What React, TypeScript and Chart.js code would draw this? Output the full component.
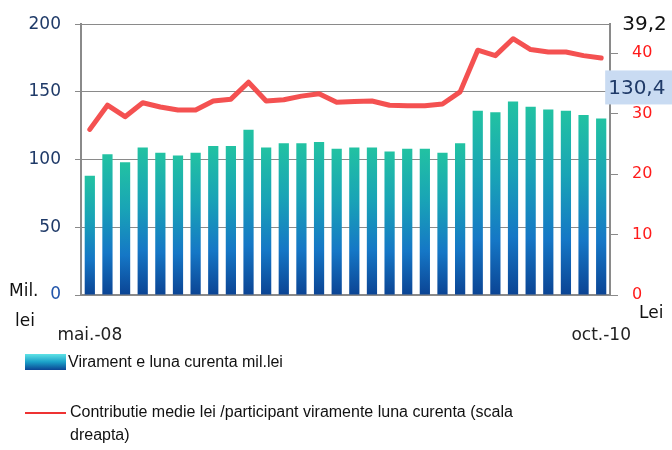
import React, { useEffect, useRef } from "react";
import { Chart, registerables } from "chart.js";

Chart.register(...registerables);

const months: string[] = [
  "mai.-08", "iun.-08", "iul.-08", "aug.-08", "sep.-08", "oct.-08", "nov.-08", "dec.-08",
  "ian.-09", "feb.-09", "mar.-09", "apr.-09", "mai.-09", "iun.-09", "iul.-09", "aug.-09",
  "sep.-09", "oct.-09", "nov.-09", "dec.-09", "ian.-10", "feb.-10", "mar.-10", "apr.-10",
  "mai.-10", "iun.-10", "iul.-10", "aug.-10", "sep.-10", "oct.-10",
];

const viramente: number[] = [
  88, 104, 98, 109, 105, 103, 105, 110, 110, 122, 109, 112, 112, 113, 108,
  109, 109, 106, 108, 108, 105, 112, 136, 135, 143, 139, 137, 136, 133, 130.4,
];

const contributie: number[] = [
  27.4, 31.4, 29.5, 31.8, 31.1, 30.6, 30.6, 32.1, 32.4, 35.2, 32.1, 32.3, 32.9, 33.3, 31.9,
  32.0, 32.1, 31.4, 31.3, 31.3, 31.6, 33.6, 40.5, 39.6, 42.4, 40.6, 40.2, 40.2, 39.6, 39.2,
];

const shownTickLabels: string[] = ["mai.-08", "oct.-10"];
const lastBarLabel = "130,4";
const lastLineLabel = "39,2";
const legendBar = "Virament e luna curenta mil.lei";
const legendLine1 = "Contributie medie lei /participant viramente luna curenta (scala";
const legendLine2 = "dreapta)";

const FONT = "'DejaVu Sans', Verdana, sans-serif";
const LFONT = "'Liberation Sans', Arial, sans-serif";

function barGradient(ctx: CanvasRenderingContext2D, top: number, bottom: number) {
  const g = ctx.createLinearGradient(0, top, 0, bottom);
  g.addColorStop(0, "#22c2a2");
  g.addColorStop(0.35, "#19a4b6");
  g.addColorStop(0.7, "#1577c6");
  g.addColorStop(1, "#0b4494");
  return g;
}

const extrasPlugin = {
  id: "extras",
  afterDraw(chart: any) {
    const ctx: CanvasRenderingContext2D = chart.ctx;
    const area = chart.chartArea;
    ctx.save();
    // unit labels
    ctx.fillStyle = "#111";
    ctx.font = `17px ${FONT}`;
    ctx.textBaseline = "middle";
    ctx.textAlign = "left";
    ctx.fillText("Mil.", 9, area.bottom - 3);
    ctx.fillText("lei", 15, area.bottom + 27);
    ctx.fillText("Lei", 639, area.bottom + 19);

    // value labels near last points
    const lineMeta = chart.getDatasetMeta(1);
    const barMeta = chart.getDatasetMeta(0);
    const lp = lineMeta.data[lineMeta.data.length - 1];
    const bp = barMeta.data[barMeta.data.length - 1];
    ctx.font = `20px ${FONT}`;
    ctx.fillStyle = "#111";
    ctx.fillText(lastLineLabel, lp.x + 21, lp.y - 33);

    const bx = bp.x + 4;
    const by = bp.y - 48;
    ctx.fillStyle = "#c9dbf2";
    ctx.fillRect(bx, by, 672 - bx, 34);
    ctx.fillStyle = "#1f3a68";
    ctx.fillText(lastBarLabel, bx + 3, by + 18);

    // legend
    const sg = ctx.createLinearGradient(0, 354, 0, 370);
    sg.addColorStop(0, "#5fe3e6");
    sg.addColorStop(0.5, "#1aa0c8");
    sg.addColorStop(1, "#0b4494");
    ctx.fillStyle = sg;
    ctx.fillRect(25, 354, 41, 16);
    ctx.fillStyle = "#111";
    ctx.font = `16px ${LFONT}`;
    ctx.fillText(legendBar, 68, 363);

    ctx.strokeStyle = "#ee3333";
    ctx.lineWidth = 2;
    ctx.beginPath();
    ctx.moveTo(25, 413);
    ctx.lineTo(66, 413);
    ctx.stroke();
    ctx.fillText(legendLine1, 70, 413);
    ctx.fillText(legendLine2, 70, 436);
    ctx.restore();
  },
};

export default function App() {
  const ref = useRef<HTMLCanvasElement | null>(null);
  useEffect(() => {
    if (!ref.current) return;
    const chart = new Chart(ref.current, {
      type: "bar",
      data: {
        labels: months,
        datasets: [
          {
            type: "bar",
            label: legendBar,
            data: viramente,
            yAxisID: "y",
            order: 2,
            barPercentage: 0.58,
            categoryPercentage: 1,
            backgroundColor: (c: any) => {
              const ch = c.chart;
              if (!ch.chartArea || c.type !== "data") return "#1a80c8";
              const ys = ch.scales.y;
              return barGradient(ch.ctx, ys.getPixelForValue(c.raw), ys.getPixelForValue(0));
            },
            borderWidth: 0,
          },
          {
            type: "line",
            label: legendLine1,
            data: contributie,
            yAxisID: "y1",
            order: 1,
            borderColor: "rgba(243,72,72,0.95)",
            borderWidth: 5,
            pointRadius: 0,
            tension: 0,
            borderJoinStyle: "round",
            borderCapStyle: "round",
          },
        ],
      },
      options: {
        responsive: false,
        animation: false,
        layout: { padding: { top: 22, left: 0, right: 0, bottom: 0 } },
        plugins: { legend: { display: false }, tooltip: { enabled: false } },
        scales: {
          x: {
            type: "category",
            offset: true,
            grid: { display: false, drawTicks: false },
            border: { display: true, color: "#8a8a8a", width: 2 },
            ticks: {
              autoSkip: false,
              maxRotation: 0,
              minRotation: 0,
              padding: 30,
              color: "#222",
              font: { family: FONT, size: 17 },
              callback: function (this: any, _v: any, i: number) {
                const l = months[i];
                return shownTickLabels.includes(l) ? l : "";
              },
            },
            afterFit: (s: any) => {
              s.height = 155;
            },
          },
          y: {
            position: "left",
            min: 0,
            max: 200,
            ticks: {
              stepSize: 50,
              padding: 14,
              font: { family: FONT, size: 17 },
              color: (c: any) => (c.tick && c.tick.value === 0 ? "#2255aa" : "#1f3a68"),
            },
            grid: { color: "#8a8a8a", lineWidth: 1, tickLength: 6 },
            border: { display: true, color: "#8a8a8a", width: 2 },
            afterFit: (s: any) => {
              s.width = 81;
            },
          },
          y1: {
            position: "right",
            min: 0,
            max: 44.8,
            ticks: {
              stepSize: 10,
              includeBounds: false,
              padding: 14,
              color: "#ff1a1a",
              font: { family: FONT, size: 16 },
            },
            grid: { drawOnChartArea: false, color: "#8a8a8a", tickLength: 8 },
            border: { display: true, color: "#8a8a8a", width: 2 },
            afterFit: (s: any) => {
              s.width = 62;
            },
          },
        },
      },
      plugins: [extrasPlugin],
    } as any);
    return () => chart.destroy();
  }, []);
  return (
    <div style={{ position: "fixed", left: 0, top: 0, width: 672, height: 450, background: "#fff" }}>
      <canvas ref={ref} width={672} height={450} style={{ width: 672, height: 450, display: "block" }} />
    </div>
  );
}
